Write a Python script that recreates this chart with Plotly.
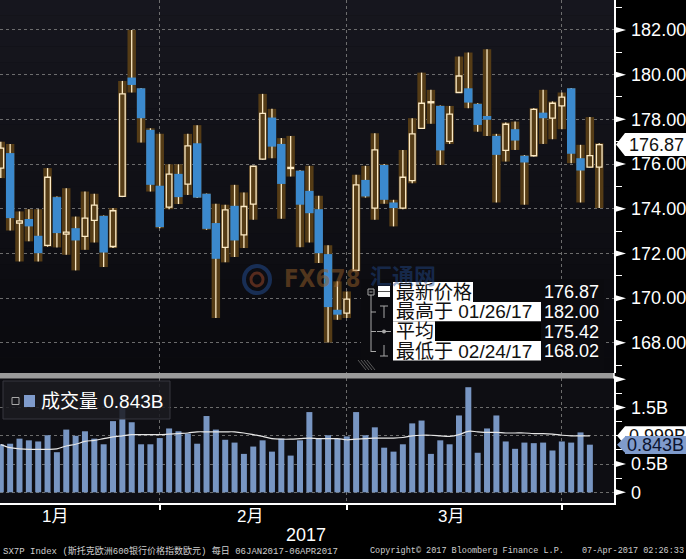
import plotly.graph_objects as go

# ---------------- data ----------------
idx = list(range(65))
opens = [175.82,176.49,173.36,173.54,172.79,172.36,174.52,172.86,173.13,172.76,
         173.48,173.68,172.31,174.55,179.87,179.39,177.53,175.03,174.07,175.56,
         175.10,176.93,174.67,173.36,172.27,174.13,172.83,174.21,176.22,178.08,
         176.90,175.80,175.70,174.80,173.98,171.97,169.48,169.33,171.24,175.29,
         174.03,175.96,174.28,174.03,175.26,177.60,178.74,178.60,177.01,179.20,
         179.39,178.69,178.15,177.26,176.61,177.56,176.37,176.37,178.30,178.05,
         178.60,179.39,176.26,175.86,175.86]
highs = [177.00,176.90,173.88,173.98,173.98,175.82,174.55,174.92,173.65,174.77,
         174.67,173.70,174.03,179.72,182.00,179.40,177.60,177.35,175.99,175.99,
         177.35,177.74,174.68,174.22,174.18,175.07,174.73,175.92,179.14,178.47,
         177.16,177.26,175.72,175.92,174.58,172.37,170.75,170.30,175.52,175.92,
         177.38,176.00,174.40,176.63,178.05,180.09,179.32,178.62,178.60,180.81,
         180.99,178.72,181.14,177.35,177.86,177.90,176.40,178.50,179.32,178.80,
         179.20,179.40,176.86,178.10,176.93]
lows = [175.37,173.03,171.64,172.54,171.64,172.30,172.27,171.94,171.24,172.16,
        172.49,171.39,172.24,174.52,179.20,176.96,174.77,173.13,173.98,174.21,
        174.62,174.48,173.06,169.11,171.60,171.84,172.24,173.51,176.20,176.26,
        173.55,175.44,172.28,172.49,171.57,168.02,169.03,169.11,171.20,174.50,
        173.51,174.22,173.21,173.98,175.14,177.58,177.80,175.96,176.90,179.18,
        178.50,177.45,177.26,174.28,176.11,176.63,174.18,176.34,176.90,177.11,
        177.56,176.04,174.28,175.84,174.03]
closes = [176.71,173.58,173.46,173.21,172.01,175.41,172.91,172.95,172.58,173.58,
          174.16,172.04,173.91,179.14,179.54,178.05,175.07,173.18,175.55,174.52,
          176.81,174.50,173.10,171.76,173.95,172.58,174.10,175.90,178.27,176.78,
          175.11,175.85,174.18,173.80,172.01,169.60,169.26,169.96,175.07,174.55,
          176.63,174.40,174.03,175.41,177.35,178.72,178.79,176.61,178.23,179.94,
          178.75,177.75,177.98,176.41,177.78,177.05,176.07,178.45,178.05,178.72,
          178.99,176.46,175.71,176.38,176.87]
volumes = [0.85,0.86,0.95,0.92,0.90,1.01,0.71,1.11,1.00,1.08,
           0.95,0.85,1.26,1.53,1.24,0.85,0.85,0.96,1.13,1.08,
           1.04,0.86,1.35,1.11,0.93,0.88,0.68,0.81,0.92,0.72,
           0.95,0.65,0.92,1.42,0.96,1.01,0.95,0.99,1.42,1.01,
           1.15,0.79,0.72,0.85,1.22,1.27,0.68,0.92,0.85,1.36,
           1.86,0.70,1.13,1.36,0.90,0.77,0.88,0.87,0.88,0.74,
           0.90,0.88,1.06,0.843]
vol_ma = [0.845,0.79,0.77,0.76,0.76,0.76,0.77,0.82,0.85,0.90,
          0.92,0.95,0.98,1.00,1.02,1.02,1.02,1.02,1.03,1.04,
          1.05,1.07,1.07,1.07,1.07,1.07,1.05,1.02,0.99,0.95,
          0.94,0.94,0.95,0.96,0.95,0.95,0.95,0.93,0.94,0.95,
          0.96,0.96,0.96,0.97,1.00,1.01,1.01,1.00,0.99,1.02,
          1.08,1.07,1.06,1.06,1.05,1.05,1.05,1.04,1.04,1.03,
          1.01,1.00,1.00,1.00]
vol_idx = idx[:len(volumes)]

price_ticks = [168, 170, 172, 174, 176, 178, 180, 182]
price_ticktext = ["%.2f" % v for v in price_ticks]
vol_ticks = [0, 0.5, 1.0, 1.5]
vol_ticktext = ["0", "0.5B", "", "1.5B"]
vol_arrow_ticks = [0, 0.5, 1.5, 2.0]
month_ends = [17, 37, 60]
month_labels = ["1月", "2月", "3月"]
month_pos = [5.8, 26.7, 48.2]
year_label = "2017"
year_pos = 32.6

last_price = 176.87
last_vol = 0.843
vol_ma_last = 0.999
legend_rows = ["最新价格", "最高于 01/26/17", "平均", "最低于 02/24/17"]
legend_vals = ["176.87", "182.00", "175.42", "168.02"]
vol_legend = "成交量 0.843B"
footer_left = "SX7P Index (斯托克欧洲600银行价格指数欧元) 每日 06JAN2017-06APR2017"
footer_mid = "Copyright© 2017 Bloomberg Finance L.P."
footer_right = "07-Apr-2017 02:26:33"

# ---------------- styling / geometry ----------------
BROWN = "#553c16"
CREAM = "#fbe9c4"
BLUE = "#3b89cd"
VOLC = "#7896c3"
CALL_BLUE = "#7f9bcc"
GRID = "rgba(125,125,125,0.85)"
FONT = "Liberation Sans, Arial, Noto Sans CJK SC, sans-serif"
MONO = "Liberation Mono, Noto Sans CJK SC, monospace"

PLOT_W, PLOT_H = 614, 503
X_RANGE = [-0.0856, 65.58]
P_RANGE = [166.65, 183.34]
V_RANGE = [-0.189, 2.023]
P_DOM = [(PLOT_H - 373) / PLOT_H, 1.0]
V_DOM = [0.0, (PLOT_H - 378) / PLOT_H]


def pxx(X):
    return X / PLOT_W


def pxy(Y):
    return (PLOT_H - Y) / PLOT_H


def p2y(v):
    return P_DOM[0] + (v - P_RANGE[0]) / (P_RANGE[1] - P_RANGE[0]) * (P_DOM[1] - P_DOM[0])


def v2y(v):
    return V_DOM[0] + (v - V_RANGE[0]) / (V_RANGE[1] - V_RANGE[0]) * (V_DOM[1] - V_DOM[0])


def y2px(yp):
    return PLOT_H - yp * PLOT_H


fig = go.Figure()

# range bars (high-low) in brown
fig.add_trace(go.Bar(x=idx, y=[h - l for h, l in zip(highs, lows)], base=lows, width=0.9,
                     marker=dict(color=BROWN, line=dict(width=0)), xaxis="x", yaxis="y",
                     hoverinfo="skip"))
# wicks
fig.add_trace(go.Bar(x=idx, y=[h - l for h, l in zip(highs, lows)], base=lows, width=0.14,
                     marker=dict(color=CREAM, line=dict(width=0)), xaxis="x", yaxis="y",
                     hoverinfo="skip"))
up = [i for i in idx if closes[i] >= opens[i]]
dn = [i for i in idx if closes[i] < opens[i]]
fig.add_trace(go.Bar(x=up, y=[closes[i] - opens[i] for i in up], base=[opens[i] for i in up],
                     width=0.6, marker=dict(color=BROWN, line=dict(color=CREAM, width=1.3)),
                     xaxis="x", yaxis="y", hoverinfo="skip"))
fig.add_trace(go.Bar(x=dn, y=[opens[i] - closes[i] for i in dn], base=[closes[i] for i in dn],
                     width=0.9, marker=dict(color=BLUE, line=dict(width=0)),
                     xaxis="x", yaxis="y", hoverinfo="skip"))
# volume
fig.add_trace(go.Bar(x=vol_idx, y=volumes, width=0.64, marker=dict(color=VOLC, line=dict(width=0)),
                     xaxis="x2", yaxis="y2", hoverinfo="skip"))
fig.add_trace(go.Scatter(x=vol_idx, y=vol_ma, mode="lines", line=dict(color="#e6e6e6", width=1.2, shape="spline"),
                         xaxis="x2", yaxis="y2", hoverinfo="skip"))

shapes = []
# gradient background of price panel
N = 24
for k in range(N):
    t = (k + 0.5) / N
    r = int(23 - 13 * t); g = int(23 - 13 * t); b = int(31 - 17 * t)
    shapes.append(dict(type="rect", xref="paper", yref="paper", x0=0, x1=1,
                       y0=pxy(373 * (k + 1) / N), y1=pxy(373 * k / N),
                       fillcolor=f"rgb({r},{g},{b})", line=dict(width=0), layer="below"))
# separator band
shapes.append(dict(type="rect", xref="paper", yref="paper", x0=0, x1=1, y0=pxy(378.5), y1=pxy(373),
                   fillcolor="#9a9a9a", line=dict(width=0), layer="above"))
shapes.append(dict(type="line", xref="paper", yref="paper", x0=1, x1=1, y0=pxy(378.5), y1=pxy(373),
                   line=dict(color="white", width=1.5)))

# axis arrowheads
def arrow(yp, half=3.5):
    Y = y2px(yp)
    return dict(type="path", xref="paper", yref="paper",
                path=f"M {pxx(614)},{pxy(Y - half)} L {pxx(626)},{pxy(Y)} L {pxx(614)},{pxy(Y + half)} Z",
                fillcolor="white", line=dict(width=0), layer="above")

for v in price_ticks:
    shapes.append(arrow(p2y(v)))
for v in vol_arrow_ticks:
    shapes.append(arrow(v2y(v)))

# price legend box
shapes.append(dict(type="rect", xref="paper", yref="paper", x0=pxx(361), x1=pxx(604), y0=pxy(372), y1=pxy(279),
                   fillcolor="#0b0b0f", line=dict(width=0), layer="above"))
white_rows = [(393, 473, 282, 302), (393, 541, 302, 321.5), (393, 435, 321.5, 341), (393, 541, 341, 360.5)]
for x0, x1, y0, y1 in white_rows:
    shapes.append(dict(type="rect", xref="paper", yref="paper", x0=pxx(x0), x1=pxx(x1), y0=pxy(y1), y1=pxy(y0),
                       fillcolor="white", line=dict(width=0), layer="above"))
shapes.append(dict(type="rect", xref="paper", yref="paper", x0=pxx(435), x1=pxx(541), y0=pxy(341), y1=pxy(321.5),
                   fillcolor="#000000", line=dict(width=0), layer="above"))
TREE = "#a8a8a8"
# tree icons
shapes.append(dict(type="rect", xref="paper", yref="paper", x0=pxx(368), x1=pxx(374), y0=pxy(295), y1=pxy(289),
                   fillcolor="rgba(0,0,0,0)", line=dict(color=TREE, width=1), layer="above"))
shapes.append(dict(type="line", xref="paper", yref="paper", x0=pxx(369.5), x1=pxx(372.5), y0=pxy(292), y1=pxy(292),
                   line=dict(color=TREE, width=1), layer="above"))
shapes.append(dict(type="line", xref="paper", yref="paper", x0=pxx(371), x1=pxx(371), y0=pxy(352), y1=pxy(295),
                   line=dict(color=TREE, width=1), layer="above"))
for Y in [312, 331.5, 351.5]:
    shapes.append(dict(type="line", xref="paper", yref="paper", x0=pxx(371), x1=pxx(376), y0=pxy(Y), y1=pxy(Y),
                       line=dict(color=TREE, width=1), layer="above"))
shapes.append(dict(type="rect", xref="paper", yref="paper", x0=pxx(378), x1=pxx(390), y0=pxy(297), y1=pxy(286),
                   fillcolor="white", line=dict(width=0), layer="above"))
shapes.append(dict(type="line", xref="paper", yref="paper", x0=pxx(378), x1=pxx(390), y0=pxy(291.5), y1=pxy(291.5),
                   line=dict(color="#555", width=1), layer="above"))
# T icon
shapes.append(dict(type="line", xref="paper", yref="paper", x0=pxx(380), x1=pxx(388), y0=pxy(306), y1=pxy(306),
                   line=dict(color=TREE, width=1), layer="above"))
shapes.append(dict(type="line", xref="paper", yref="paper", x0=pxx(384), x1=pxx(384), y0=pxy(318), y1=pxy(306),
                   line=dict(color=TREE, width=1), layer="above"))
# -o- icon
shapes.append(dict(type="line", xref="paper", yref="paper", x0=pxx(377), x1=pxx(391), y0=pxy(331.5), y1=pxy(331.5),
                   line=dict(color=TREE, width=1), layer="above"))
shapes.append(dict(type="circle", xref="paper", yref="paper", x0=pxx(382), x1=pxx(386), y0=pxy(333.5), y1=pxy(329.5),
                   fillcolor=TREE, line=dict(width=0), layer="above"))
# ⊥ icon
shapes.append(dict(type="line", xref="paper", yref="paper", x0=pxx(384), x1=pxx(384), y0=pxy(356), y1=pxy(345),
                   line=dict(color=TREE, width=1), layer="above"))
shapes.append(dict(type="line", xref="paper", yref="paper", x0=pxx(380), x1=pxx(388), y0=pxy(356), y1=pxy(356),
                   line=dict(color=TREE, width=1), layer="above"))
# resize grip hatch
for k in range(4):
    shapes.append(dict(type="line", xref="paper", yref="paper", x0=pxx(358 + 3 * k), x1=pxx(366 + 3 * k),
                       y0=pxy(360), y1=pxy(370), line=dict(color="#5a5a5a", width=1), layer="above"))

# volume legend box
shapes.append(dict(type="rect", xref="paper", yref="paper", x0=pxx(3), x1=pxx(170), y0=pxy(419), y1=pxy(381),
                   fillcolor="rgba(27,27,33,0.86)", line=dict(color="rgba(55,55,62,1)", width=1), layer="above"))
shapes.append(dict(type="rect", xref="paper", yref="paper", x0=pxx(12), x1=pxx(19), y0=pxy(404.5), y1=pxy(397.5),
                   fillcolor="rgba(0,0,0,0)", line=dict(color=TREE, width=1), layer="above"))
shapes.append(dict(type="rect", xref="paper", yref="paper", x0=pxx(24), x1=pxx(35), y0=pxy(407), y1=pxy(395),
                   fillcolor=CALL_BLUE, line=dict(width=0), layer="above"))

# watermark logo
shapes.append(dict(type="circle", xref="paper", yref="paper", x0=pxx(244), x1=pxx(270), y0=pxy(293), y1=pxy(266),
                   fillcolor="rgba(0,0,0,0)", line=dict(color="rgba(35,75,140,0.55)", width=4), layer="above"))
shapes.append(dict(type="circle", xref="paper", yref="paper", x0=pxx(251), x1=pxx(263), y0=pxy(286), y1=pxy(273),
                   fillcolor="rgba(0,0,0,0)", line=dict(color="rgba(150,70,40,0.55)", width=3), layer="above"))

# last price callout
Yl = y2px(p2y(last_price))
shapes.append(dict(type="path", xref="paper", yref="paper",
                   path=f"M {pxx(616)},{pxy(Yl)} L {pxx(625)},{pxy(Yl - 11.5)} L {pxx(686)},{pxy(Yl - 11.5)} "
                        f"L {pxx(686)},{pxy(Yl + 11.5)} L {pxx(625)},{pxy(Yl + 11.5)} Z",
                   fillcolor="white", line=dict(width=0), layer="above"))
# volume MA callout (white) and last volume callout tip (blue)
Ym = y2px(v2y(vol_ma_last))
shapes.append(dict(type="path", xref="paper", yref="paper",
                   path=f"M {pxx(617)},{pxy(Ym)} L {pxx(625)},{pxy(Ym - 9.5)} L {pxx(686)},{pxy(Ym - 9.5)} "
                        f"L {pxx(686)},{pxy(Ym + 9.5)} L {pxx(625)},{pxy(Ym + 9.5)} Z",
                   fillcolor="white", line=dict(width=0), layer="above"))
Yv = y2px(v2y(last_vol))
shapes.append(dict(type="path", xref="paper", yref="paper",
                   path=f"M {pxx(617)},{pxy(Yv)} L {pxx(626)},{pxy(Yv - 9)} L {pxx(626)},{pxy(Yv + 9)} Z",
                   fillcolor=CALL_BLUE, line=dict(width=0), layer="above"))

annotations = []
for lab, pos in zip(month_labels, month_pos):
    annotations.append(dict(text=lab, x=pos, xref="x2", y=pxy(516), yref="paper", showarrow=False,
                            font=dict(color="white", size=17, family=FONT), xanchor="center", yanchor="middle"))
annotations.append(dict(text=year_label, x=year_pos, xref="x2", y=pxy(535), yref="paper", showarrow=False,
                        font=dict(color="white", size=18, family=FONT), xanchor="center", yanchor="middle"))
annotations.append(dict(text=footer_left, x=pxx(1), y=pxy(551), xref="paper", yref="paper", showarrow=False,
                        font=dict(color="#cfcfcf", size=9, family=MONO), xanchor="left", yanchor="middle"))
annotations.append(dict(text=footer_mid, x=pxx(368), y=pxy(551), xref="paper", yref="paper", showarrow=False,
                        font=dict(color="#cfcfcf", size=8.5, family=MONO), xanchor="left", yanchor="middle"))
annotations.append(dict(text=footer_right, x=pxx(686), y=pxy(551), xref="paper", yref="paper", showarrow=False,
                        font=dict(color="#cfcfcf", size=8.5, family=MONO), xanchor="right", yanchor="middle"))
# watermark text
annotations.append(dict(text="<b>FX678</b>", x=pxx(282), y=pxy(279), xref="paper", yref="paper", showarrow=False,
                        font=dict(color="rgba(150,95,40,0.5)", size=24, family="DejaVu Sans Condensed, Liberation Sans Narrow, sans-serif"),
                        xanchor="left", yanchor="middle"))
annotations.append(dict(text="<b>汇通网</b>", x=pxx(368), y=pxy(274), xref="paper", yref="paper", showarrow=False,
                        font=dict(color="rgba(35,75,145,0.45)", size=22, family="Noto Sans CJK SC"),
                        xanchor="left", yanchor="middle"))
# price legend
row_y = [292, 312, 331.5, 351]
for txt, val, Y in zip(legend_rows, legend_vals, row_y):
    annotations.append(dict(text=txt, x=pxx(394), y=pxy(Y), xref="paper", yref="paper", showarrow=False,
                            font=dict(color="#111", size=19, family=FONT), xanchor="left", yanchor="middle"))
    annotations.append(dict(text=val, x=pxx(601), y=pxy(Y), xref="paper", yref="paper", showarrow=False,
                            font=dict(color="white", size=18, family=FONT), xanchor="right", yanchor="middle"))
# volume legend
annotations.append(dict(text=vol_legend, x=pxx(39), y=pxy(401), xref="paper", yref="paper", showarrow=False,
                        font=dict(color="white", size=19, family=FONT), xanchor="left", yanchor="middle"))
# right-axis callouts
annotations.append(dict(text="%.2f" % last_price, x=pxx(627), y=pxy(Yl + 0.5), xref="paper", yref="paper",
                        showarrow=False, font=dict(color="#111", size=18, family=FONT), xanchor="left", yanchor="middle"))
annotations.append(dict(text="%.3fB" % vol_ma_last, x=pxx(627), y=pxy(Ym), xref="paper", yref="paper",
                        showarrow=False, font=dict(color="#111", size=18, family=FONT), xanchor="left", yanchor="middle"))
annotations.append(dict(text="%.3fB" % last_vol, x=pxx(625), y=pxy(Yv), xref="paper", yref="paper",
                        showarrow=False, font=dict(color="#0c1430", size=18, family=FONT), xanchor="left",
                        yanchor="middle", bgcolor=CALL_BLUE, width=61, height=18, borderpad=0, borderwidth=0,
                        align="center"))

axis_common = dict(showgrid=True, gridcolor=GRID, griddash="3px,3px", gridwidth=1, zeroline=False)

fig.update_layout(
    width=686, height=559,
    margin=dict(l=0, r=72, t=0, b=56, pad=0),
    paper_bgcolor="#000000", plot_bgcolor="#0e0e13",
    barmode="overlay", showlegend=False, hovermode=False,
    font=dict(family=FONT, color="white"),
    xaxis=dict(domain=[0, 1], anchor="y", range=X_RANGE, tickvals=month_ends, showticklabels=False,
               ticks="", showline=False, **axis_common),
    xaxis2=dict(domain=[0, 1], anchor="y2", range=X_RANGE, matches="x", tickvals=month_ends, showticklabels=False,
                ticks="outside", ticklen=5, tickwidth=1.5, tickcolor="white",
                showline=True, linecolor="white", linewidth=1.5, **axis_common),
    yaxis=dict(domain=P_DOM, anchor="x", side="right", range=P_RANGE, tickvals=price_ticks,
               ticktext=price_ticktext, tickfont=dict(color="white", size=18, family=FONT),
               ticks="outside", ticklen=0, tickcolor="white", ticklabelstandoff=12,
               showline=True, linecolor="white", linewidth=1.5,
               minor=dict(ticks="outside", ticklen=6, tickwidth=1, tickcolor="white", dtick=1, tick0=167,
                          showgrid=False),
               **axis_common),
    yaxis2=dict(domain=V_DOM, anchor="x2", side="right", range=V_RANGE, tickvals=vol_ticks,
                ticktext=vol_ticktext, tickfont=dict(color="white", size=18, family=FONT),
                ticks="outside", ticklen=0, tickcolor="white", ticklabelstandoff=12,
                showline=True, linecolor="white", linewidth=1.5,
                minor=dict(ticks="outside", ticklen=6, tickwidth=1, tickcolor="white", dtick=0.25, tick0=0,
                           showgrid=False),
                **axis_common),
    shapes=shapes,
    annotations=annotations,
)

fig.write_html("out.html", config={"displayModeBar": False, "staticPlot": True},
               post_script="document.body.style.margin='0px';document.body.style.padding='0px';document.body.style.overflow='hidden';")
